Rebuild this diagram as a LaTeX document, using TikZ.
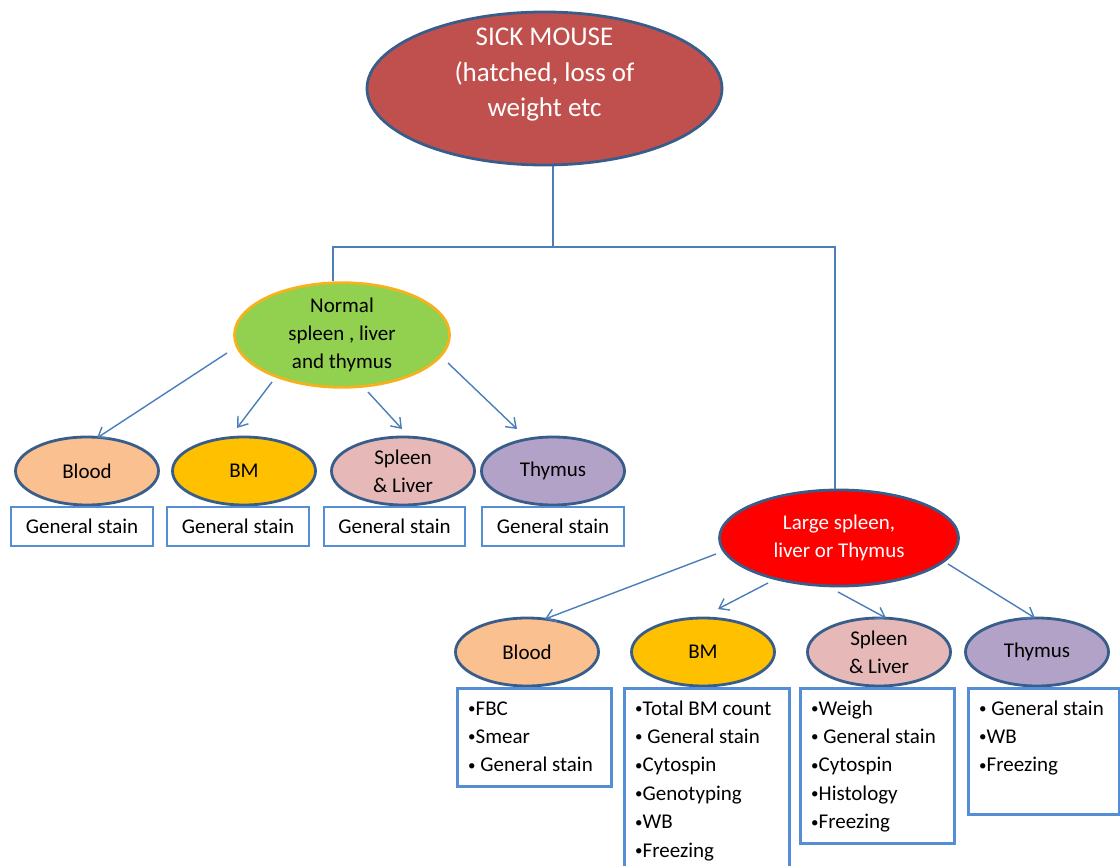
\documentclass[tikz,border=0pt]{standalone}
\usepackage{fontspec}
\setmainfont{Carlito}
\usetikzlibrary{shapes.geometric,arrows.meta,calc}
\definecolor{lnblue}{HTML}{4A7EBB}
\definecolor{bdblue}{HTML}{385D8A}
\definecolor{boxblue}{HTML}{558ED5}
\definecolor{topred}{HTML}{C0504D}
\definecolor{lgreen}{HTML}{92D050}
\definecolor{gborder}{HTML}{F5B21C}
\definecolor{peach}{HTML}{FAC090}
\definecolor{goldbm}{HTML}{FFC000}
\definecolor{pinksl}{HTML}{E6B9B8}
\definecolor{lilac}{HTML}{B3A2C7}
\newcommand\mybul{{\fontsize{15}{15}\selectfont\raisebox{1.5pt}{•}}}
\begin{document}
\begin{tikzpicture}[x=1pt,y=-1pt,
  oval/.style={ellipse, draw=bdblue, line width=2.8pt, inner sep=0pt, align=center,
    font=\fontsize{21}{28}\selectfont},
  small/.style={oval, minimum width=143pt, minimum height=68pt},
  boxs/.style={draw=boxblue, line width=2.6pt, inner sep=0pt, align=center,
    font=\fontsize{21}{28}\selectfont},
  blist/.style={anchor=north west, inner sep=0pt, align=left,
    font=\fontsize{21}{28.4}\selectfont},
  conn/.style={draw=lnblue, line width=1.4pt},
  arr/.style={conn, -{Straight Barb[length=9pt,width=13pt,line width=1.4pt]}}]
\useasboundingbox (0,0) rectangle (1120,866);

% top
\node[oval, fill=topred, minimum width=355pt, minimum height=153pt] (top) at (544.5,88.5) {};
\node[text=white, align=center, inner sep=0pt, font=\fontsize{27}{35.5}\selectfont] (toptext) at (544.5,75) {SICK MOUSE\\(hatched, loss of\\weight etc};

% second level
\node[oval, fill=lgreen, draw=gborder, minimum width=215pt, minimum height=94pt] (green) at (342,335) {Normal\\spleen , liver\\and thymus};
\node[oval, fill=red, text=white, minimum width=239pt, minimum height=96pt] (red) at (839,538) {Large spleen,\\liver or Thymus};

% tree connector
\coordinate (j1) at (553,247);
\coordinate (jl) at (333,247);
\coordinate (jr) at (835,247);
\draw[conn] (j1 |- top.south) -- (j1);
\draw[conn] (jl |- green.north) -- (jl) -- (jr) -- (jr |- red.north);

% row 1
\node[small, fill=peach] (b1) at (87,471) {Blood};
\node[small, fill=goldbm] (b2) at (244,471) {BM};
\node[small, fill=pinksl] (b3) at (403,471) {Spleen\\\& Liver};
\node[small, fill=lilac] (b4) at (553,471) {Thymus};

\node[boxs, minimum width=142pt, minimum height=39pt] (g1) at (82,526.5) {General stain};
\node[boxs, minimum width=142pt, minimum height=39pt] (g2) at (238,526.5) {General stain};
\node[boxs, minimum width=141pt, minimum height=39pt] (g3) at (394.5,526.5) {General stain};
\node[boxs, minimum width=142pt, minimum height=39pt] (g4) at (553,526.5) {General stain};

\draw[arr] ($(green)+(-115,18)$) -- ($(b1)+(10,-33)$);
\draw[arr] ($(green)+(-70,47)$) -- ($(b2)+(-7,-43)$);
\draw[arr] ($(green)+(26,57)$) -- ($(b3)+(-1,-42)$);
\draw[arr] ($(green)+(106,28)$) -- ($(b4)+(-36,-42)$);

% row 2
\node[small, fill=peach] (c1) at (527,652) {Blood};
\node[small, fill=goldbm] (c2) at (703,652) {BM};
\node[small, fill=pinksl] (c3) at (879,652) {Spleen\\\& Liver};
\node[small, fill=lilac] (c4) at (1037,652) {Thymus};

\draw[arr] ($(red)+(-123,16)$) -- ($(c1)+(18,-33)$);
\draw[arr] ($(red)+(-71,45)$) -- ($(c2)+(15,-43)$);
\draw[arr] ($(red)+(-1,54)$) -- ($(c3)+(7,-34)$);
\draw[arr] ($(red)+(109,26)$) -- ($(c4)+(-2,-34)$);

\node[boxs, anchor=north west, minimum width=154pt, minimum height=98pt] (d1) at (456,687) {};
\node[boxs, anchor=north west, minimum width=165pt, minimum height=195pt] (d2) at (623,687) {};
\node[boxs, anchor=north west, minimum width=154pt, minimum height=155pt] (d3) at (799,687) {};
\node[boxs, anchor=north west, minimum width=151pt, minimum height=126pt] (d4) at (967,687) {};

\node[blist] (t1) at ($(d1.north west)+(12,8)$) {\strut\mybul FBC\\\mybul Smear\\\mybul\ General stain};
\node[blist] (t2) at ($(d2.north west)+(12,8)$) {\strut\mybul Total BM count\\\mybul\ General stain\\\mybul Cytospin\\\mybul Genotyping\\\mybul WB\\\mybul Freezing};
\node[blist] (t3) at ($(d3.north west)+(12,8)$) {\strut\mybul Weigh\\\mybul\ General stain\\\mybul Cytospin\\\mybul Histology\\\mybul Freezing};
\node[blist] (t4) at ($(d4.north west)+(12,8)$) {\strut\mybul\ General stain\\\mybul WB\\\mybul Freezing};
\end{tikzpicture}
\end{document}
